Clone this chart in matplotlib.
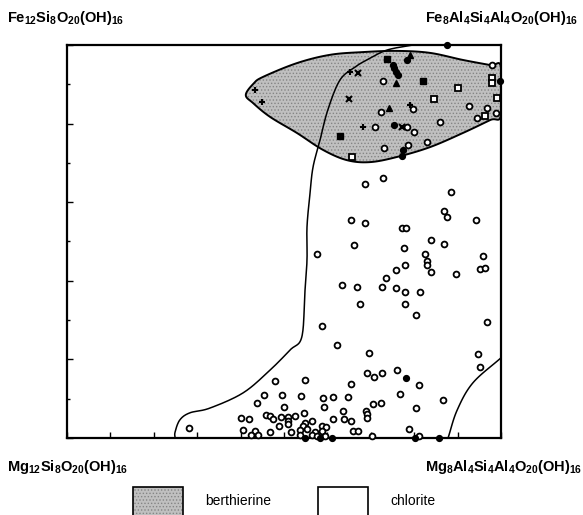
import numpy as np
import matplotlib
matplotlib.use("Agg")
import matplotlib.pyplot as plt
from matplotlib.patches import Polygon, Rectangle

plt.rcParams['font.family'] = ['Liberation Sans', 'DejaVu Sans']
plt.rcParams['mathtext.default'] = 'regular'
plt.rcParams['hatch.linewidth'] = 0.6

# ---------------- data (x = Al fraction, y = Fe fraction) ----------------
open_circle_x = [0.727, 0.687, 0.885, 0.654, 0.687, 0.773, 0.781, 0.869, 0.876, 0.942,
                 0.838, 0.869, 0.662, 0.776, 0.577, 0.826, 0.959, 0.829, 0.829, 0.838,
                 0.778, 0.757, 0.952, 0.963, 0.896, 0.734, 0.633, 0.669, 0.725, 0.758,
                 0.779, 0.814, 0.675, 0.779, 0.803, 0.587, 0.967, 0.622, 0.696, 0.946,
                 0.952, 0.691, 0.707, 0.725, 0.761, 0.812, 0.479, 0.548, 0.654, 0.767,
                 0.866, 0.454, 0.495, 0.540, 0.590, 0.613, 0.647, 0.438, 0.501, 0.592,
                 0.705, 0.723, 0.803, 0.635, 0.688, 0.691, 0.691, 0.546, 0.401, 0.420,
                 0.459, 0.468, 0.475, 0.492, 0.510, 0.525, 0.509, 0.488, 0.509, 0.565,
                 0.549, 0.544, 0.614, 0.639, 0.655, 0.588, 0.597, 0.282, 0.405, 0.433,
                 0.423, 0.440, 0.468, 0.516, 0.537, 0.552, 0.571, 0.587, 0.658, 0.671,
                 0.703, 0.789, 0.812, 0.537, 0.564, 0.575, 0.594,
                 # berthierine field
                 0.729, 0.724, 0.798, 0.859, 0.783, 0.710, 0.800, 0.829, 0.786, 0.730,
                 0.927, 0.944, 0.967, 0.988, 0.979]
open_circle_y = [0.662, 0.646, 0.626, 0.555, 0.546, 0.535, 0.535, 0.578, 0.562, 0.555,
                 0.504, 0.494, 0.490, 0.484, 0.468, 0.468, 0.462, 0.450, 0.439, 0.423,
                 0.439, 0.427, 0.430, 0.433, 0.417, 0.406, 0.390, 0.384, 0.384, 0.381,
                 0.371, 0.371, 0.341, 0.341, 0.312, 0.286, 0.296, 0.237, 0.216, 0.213,
                 0.181, 0.166, 0.156, 0.166, 0.173, 0.135, 0.145, 0.148, 0.137, 0.112,
                 0.097, 0.109, 0.109, 0.107, 0.103, 0.105, 0.105, 0.090, 0.080, 0.080,
                 0.087, 0.090, 0.077, 0.069, 0.069, 0.061, 0.050, 0.064, 0.050, 0.048,
                 0.059, 0.056, 0.048, 0.054, 0.054, 0.057, 0.043, 0.031, 0.036, 0.044,
                 0.039, 0.031, 0.048, 0.048, 0.044, 0.031, 0.029, 0.025, 0.020, 0.018,
                 0.008, 0.008, 0.016, 0.016, 0.020, 0.022, 0.016, 0.018, 0.019, 0.019,
                 0.005, 0.022, 0.005, 0.008, 0.008, 0.005, 0.005,
                 0.909, 0.830, 0.836, 0.805, 0.791, 0.791, 0.779, 0.754, 0.746, 0.737,
                 0.845, 0.814, 0.840, 0.828, 0.949]

open_square_x = [0.656, 0.902, 0.846, 0.963, 0.990, 0.979, 0.979]
open_square_y = [0.716, 0.891, 0.862, 0.819, 0.864, 0.915, 0.904]

filled_square_x = [0.629, 0.737, 0.821]
filled_square_y = [0.768, 0.964, 0.909]

filled_circle_x = [0.750, 0.754, 0.758, 0.762, 0.783, 0.754, 0.775, 0.773, 0.998, 0.875,
                   0.781, 0.548, 0.583, 0.610, 0.802, 0.858]
filled_circle_y = [0.949, 0.941, 0.932, 0.924, 0.962, 0.796, 0.733, 0.718, 0.909, 1.000,
                   0.152, 0.000, 0.000, 0.000, 0.000, 0.000]

filled_triangle_x = [0.790, 0.757, 0.743]
filled_triangle_y = [0.975, 0.903, 0.840]

plus_x = [0.433, 0.449, 0.652, 0.681, 0.790]
plus_y = [0.885, 0.856, 0.931, 0.791, 0.847]

cross_x = [0.670, 0.650, 0.771]
cross_y = [0.928, 0.863, 0.791]

# field boundaries
chlorite_left_x = [0.249, 0.249, 0.260, 0.283, 0.329, 0.406, 0.468, 0.514, 0.541, 0.548,
                   0.553, 0.553, 0.560, 0.567, 0.583, 0.601, 0.629, 0.664, 0.691, 0.737, 0.797]
chlorite_left_y = [0.000, 0.015, 0.046, 0.064, 0.076, 0.115, 0.173, 0.224, 0.257, 0.369,
                   0.453, 0.537, 0.623, 0.690, 0.758, 0.835, 0.911, 0.944, 0.962, 0.987, 1.000]
chlorite_right_x = [1.000, 0.935, 0.899, 0.878]
chlorite_right_y = [0.204, 0.140, 0.071, 0.000]

berth_x = [0.412, 0.430, 0.452, 0.530, 0.606, 0.682, 0.760, 0.836, 0.912, 0.975, 1.000,
           1.000, 0.975, 0.912, 0.836, 0.760, 0.698, 0.645, 0.590, 0.530, 0.468, 0.429]
berth_y = [0.873, 0.902, 0.919, 0.954, 0.975, 0.982, 0.985, 0.980, 0.962, 0.949, 0.944,
           0.822, 0.809, 0.776, 0.740, 0.715, 0.702, 0.707, 0.733, 0.776, 0.817, 0.852]

corner_labels = ['Fe$_{12}$Si$_8$O$_{20}$(OH)$_{16}$', 'Fe$_8$Al$_4$Si$_4$Al$_4$O$_{20}$(OH)$_{16}$',
                 'Mg$_{12}$Si$_8$O$_{20}$(OH)$_{16}$', 'Mg$_8$Al$_4$Si$_4$Al$_4$O$_{20}$(OH)$_{16}$']
legend_labels = ['berthierine', 'chlorite']


def catmull(xs, ys, n=16, closed=False):
    p = np.column_stack([xs, ys]).astype(float)
    if closed:
        p = np.vstack([p[-1], p, p[0], p[1]])
    else:
        p = np.vstack([2 * p[0] - p[1], p, 2 * p[-1] - p[-2]])
    out = []
    for i in range(1, len(p) - 2):
        p0, p1, p2, p3 = p[i - 1], p[i], p[i + 1], p[i + 2]
        t = np.linspace(0, 1, n, endpoint=False)[:, None]
        seg = 0.5 * ((2 * p1) + (-p0 + p2) * t + (2 * p0 - 5 * p1 + 4 * p2 - p3) * t ** 2
                     + (-p0 + 3 * p1 - 3 * p2 + p3) * t ** 3)
        out.append(seg)
    out.append(p[-2][None, :])
    return np.vstack(out)


fig = plt.figure(figsize=(5.83, 5.15), dpi=100)
ax = fig.add_axes([67 / 583, 1 - 438 / 515, 434 / 583, 393 / 515])
ax.set_xlim(0, 1)
ax.set_ylim(0, 1)

# berthierine field
bpts = catmull(berth_x, berth_y, closed=True)
bpts[:, 0] = np.minimum(bpts[:, 0], 1.0)
ax.add_patch(Polygon(bpts, closed=True, facecolor='#c0c0c0', edgecolor='#858585',
                     hatch='.....', linewidth=0, zorder=1))
ax.add_patch(Polygon(bpts, closed=True, facecolor='none', edgecolor='black',
                     linewidth=1.4, zorder=2))

# chlorite boundaries
cl = catmull(chlorite_left_x, chlorite_left_y)
ax.plot(cl[:, 0], cl[:, 1], color='black', lw=1.1, zorder=2, clip_on=False)
cr = catmull(chlorite_right_x, chlorite_right_y)
ax.plot(cr[:, 0], cr[:, 1], color='black', lw=1.1, zorder=2)

ms = 4.2
kw = dict(linestyle='none', clip_on=False, zorder=4)
ax.plot(open_circle_x, open_circle_y, marker='o', ms=ms, mfc='white', mec='black', mew=1.3, **kw)
ax.plot(open_square_x, open_square_y, marker='s', ms=ms, mfc='white', mec='black', mew=1.3, **kw)
ax.plot(filled_square_x, filled_square_y, marker='s', ms=5, mfc='black', mec='black', **kw)
ax.plot(filled_circle_x, filled_circle_y, marker='o', ms=ms, mfc='black', mec='black', **kw)
ax.plot(filled_triangle_x, filled_triangle_y, marker='^', ms=5, mfc='black', mec='black', **kw)
ax.plot(plus_x, plus_y, marker='+', ms=5, mec='black', mew=1.5, **kw)
ax.plot(cross_x, cross_y, marker='x', ms=5, mec='black', mew=1.5, **kw)

for s in ax.spines.values():
    s.set_linewidth(1.6)
ax.set_xticks(np.arange(0, 1.01, 0.1))
ax.set_yticks(np.arange(0, 1.01, 0.2))
ax.set_yticks(np.arange(0.1, 1.0, 0.2), minor=True)
ax.tick_params(axis='both', which='both', direction='in', labelleft=False, labelbottom=False,
               top=False, right=False, width=1.0)
ax.tick_params(axis='both', which='major', length=4)
ax.tick_params(axis='y', which='minor', length=2.5)
ax.tick_params(axis='x', which='minor', bottom=False)

fs = 10.5
fig.text(7 / 583, 1 - 18 / 515, corner_labels[0], fontsize=fs, fontweight='bold', ha='left', va='center')
fig.text(578 / 583, 1 - 18 / 515, corner_labels[1], fontsize=fs, fontweight='bold', ha='right', va='center')
fig.text(7 / 583, 1 - 467 / 515, corner_labels[2], fontsize=fs, fontweight='bold', ha='left', va='center')
fig.text(582 / 583, 1 - 467 / 515, corner_labels[3], fontsize=fs, fontweight='bold', ha='right', va='center')

# legend boxes
fig.patches.append(Rectangle((133 / 583, -0.02), 50 / 583, 0.02 + 28 / 515, transform=fig.transFigure,
                             facecolor='#c0c0c0', edgecolor='#858585', hatch='.....', lw=0))
fig.patches.append(Rectangle((133 / 583, -0.02), 50 / 583, 0.02 + 28 / 515, transform=fig.transFigure,
                             facecolor='none', edgecolor='black', lw=1.2))
fig.patches.append(Rectangle((318 / 583, -0.02), 50 / 583, 0.02 + 28 / 515, transform=fig.transFigure,
                             facecolor='white', edgecolor='black', lw=1.2))
fig.text(205 / 583, 1 - 501 / 515, legend_labels[0], fontsize=10, ha='left', va='center')
fig.text(390 / 583, 1 - 501 / 515, legend_labels[1], fontsize=10, ha='left', va='center')

fig.savefig('out.png', dpi=100)
